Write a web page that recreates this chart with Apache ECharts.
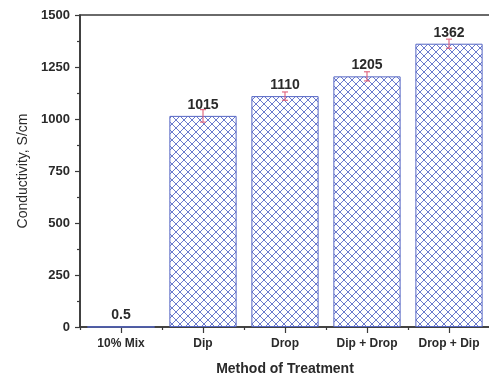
<!DOCTYPE html>
<html>
<head>
<meta charset="utf-8">
<script src="https://cdn.jsdelivr.net/npm/echarts@6/dist/echarts.min.js"></script>
<style>
  html, body { margin: 0; padding: 0; background: #fff; }
  #chart { width: 489px; height: 378px; }
</style>
</head>
<body>
<div id="chart"></div>
<script>
// Conductivity by method of treatment
const categories = ['10% Mix', 'Dip', 'Drop', 'Dip + Drop', 'Drop + Dip'];
const conductivity = [0.5, 1015, 1110, 1205, 1362];
const errors = [0, 30, 20, 22, 22];
const yTicks = [0, 250, 500, 750, 1000, 1250, 1500];

// crosshatch fill for the bars
function makeHatch() {
  const c = document.createElement('canvas');
  c.width = 8; c.height = 8;
  const ctx = c.getContext('2d');
  ctx.fillStyle = '#ffffff';
  ctx.fillRect(0, 0, 8, 8);
  ctx.strokeStyle = '#6a7acd';
  ctx.lineWidth = 1;
  ctx.beginPath();
  ctx.moveTo(0, 0); ctx.lineTo(8, 8);
  ctx.moveTo(8, 0); ctx.lineTo(0, 8);
  ctx.stroke();
  return c;
}

const chart = echarts.init(document.getElementById('chart'), null, { renderer: 'canvas' });
const textColor = '#2a2a2a';
const axisColor = '#3a3a3a';

chart.setOption({
  animation: false,
  grid: {
    left: 80, right: -1, top: 15, bottom: 51,
    outerBoundsMode: 'none',
    containLabel: false,
    show: true, borderColor: axisColor, borderWidth: 1.6, backgroundColor: 'transparent'
  },
  xAxis: [
    {
      type: 'category',
      data: categories,
      axisLine: { lineStyle: { color: axisColor, width: 1.6 } },
      axisTick: { show: true, length: 3, lineStyle: { color: axisColor, width: 1.2 } },
      axisLabel: { color: textColor, fontFamily: 'Liberation Sans, Arial', fontWeight: 'bold', fontSize: 12, margin: 11 },
      name: 'Method of Treatment',
      nameLocation: 'middle',
      nameGap: 35,
      nameTextStyle: { color: textColor, fontFamily: 'Liberation Sans, Arial', fontWeight: 'bold', fontSize: 14 }
    },
    {
      type: 'category',
      data: categories,
      position: 'bottom',
      axisLine: { show: false },
      axisTick: { show: true, alignWithLabel: true, length: 6, lineStyle: { color: axisColor, width: 1.2 } },
      axisLabel: { show: false }
    }
  ],
  yAxis: {
    type: 'value',
    min: yTicks[0],
    max: yTicks[yTicks.length - 1],
    interval: 250,
    splitLine: { show: false },
    axisLine: { show: true, lineStyle: { color: axisColor, width: 1.6 } },
    axisTick: { show: true, length: 5, lineStyle: { color: axisColor, width: 1.2 } },
    minorTick: { show: true, splitNumber: 2, length: 3, lineStyle: { color: axisColor, width: 1.2 } },
    axisLabel: {
      color: textColor, fontFamily: 'Liberation Sans, Arial', fontWeight: 'bold', fontSize: 13, margin: 10,
      formatter: (v) => String(v)
    },
    name: 'Conductivity, S/cm',
    nameLocation: 'middle',
    nameGap: 47,
    nameTextStyle: { color: textColor, fontFamily: 'Liberation Sans, Arial', fontSize: 14 }
  },
  series: [
    {
      type: 'bar',
      data: conductivity,
      barCategoryGap: '18%',
      itemStyle: {
        color: { image: makeHatch(), repeat: 'repeat' },
        borderColor: '#5566c4',
        borderWidth: 1
      },
      label: {
        show: true,
        position: 'top',
        distance: 4,
        color: textColor,
        fontFamily: 'Liberation Sans, Arial',
        fontWeight: 'bold',
        fontSize: 14
      }
    },
    {
      type: 'custom',
      data: conductivity.map((v, i) => [i, v, errors[i]]),
      renderItem: function (params, api) {
        const i = api.value(0), v = api.value(1), e = api.value(2);
        if (!e) return null;
        const hi = api.coord([i, v + e]);
        const lo = api.coord([i, v - e]);
        const w = 3;
        const style = { stroke: '#e0607a', lineWidth: 1.1 };
        return {
          type: 'group',
          children: [
            { type: 'line', shape: { x1: hi[0], y1: hi[1], x2: lo[0], y2: lo[1] }, style },
            { type: 'line', shape: { x1: hi[0] - w, y1: hi[1], x2: hi[0] + w, y2: hi[1] }, style },
            { type: 'line', shape: { x1: lo[0] - w, y1: lo[1], x2: lo[0] + w, y2: lo[1] }, style }
          ]
        };
      },
      z: 5
    }
  ]
});
</script>
</body>
</html>
